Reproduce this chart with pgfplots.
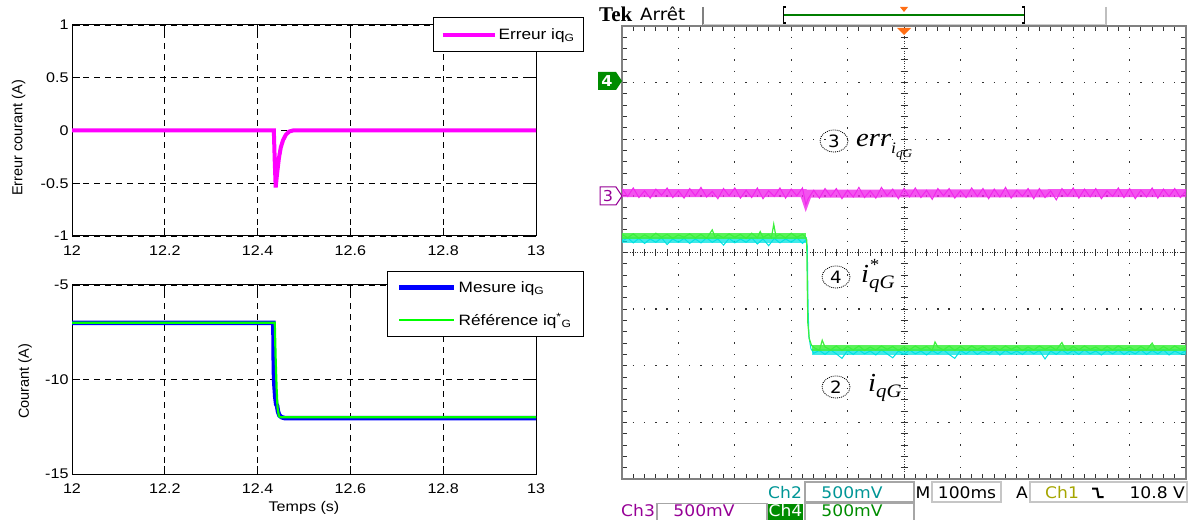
\documentclass[border=0pt]{standalone}
\usepackage{pgfplots}
\pgfplotsset{compat=1.18}
\usepackage{fontspec}
\setmainfont{Liberation Sans}[FakeStretch=1.15]
\newfontfamily\ylabfont{Liberation Sans}
\newfontfamily\scopefont{DejaVu Sans}[FakeStretch=1.07]
\newfontfamily\tekfont{Liberation Serif}
\newfontfamily\labfont{Liberation Serif}[FakeStretch=1.1]
\definecolor{mag}{RGB}{255,0,255}
\definecolor{mblue}{RGB}{0,0,255}
\definecolor{mgreen}{RGB}{0,255,0}
\definecolor{tmag}{RGB}{240,40,235}
\definecolor{tgreen}{RGB}{60,240,60}
\definecolor{tcyan}{RGB}{0,225,225}
\definecolor{teal2}{RGB}{0,150,150}
\definecolor{purp}{RGB}{150,0,150}
\definecolor{dgreen}{RGB}{0,140,0}
\definecolor{olive2}{RGB}{165,165,0}
\definecolor{orng}{RGB}{255,110,20}
\definecolor{gridc}{RGB}{50,50,50}
\definecolor{bordc}{RGB}{128,128,128}
\pgfplotsset{mat/.style={scale only axis, width=464pt, xmin=12, xmax=13,
  xtick={12,12.2,12.4,12.6,12.8,13}, xticklabels={12,12.2,12.4,12.6,12.8,13},
  tick align=inside, major tick length=8pt, tick style={black,line width=0.8pt},
  axis line style={line width=1pt}, grid=major,
  major grid style={black,line width=0.7pt,dash pattern=on 6pt off 5pt},
  legend cell align=left,
  legend image code/.code={\draw[##1] (0pt,0pt) -- (52pt,0pt);}}}
\begin{document}
\begin{tikzpicture}[font=\fontsize{14}{16}\selectfont]
\useasboundingbox (0,0) rectangle (1190pt,519pt);
% ---------------- oscilloscope graticule and texts ----------------
\begin{scope}[x=1pt,y=-1pt,shift={(0pt,519pt)}]
\foreach \i in {1,2,3,4,6,7,8,9}
  \draw[gridc,line width=1.3pt,dash pattern=on 1.3pt off 10.025pt,dash phase=0.65pt] ({622+56.4*\i},26) -- ({622+56.4*\i},479);
\foreach \j in {1,2,3,5,6,7}
  \draw[gridc,line width=1.3pt,dash pattern=on 1.3pt off 9.98pt,dash phase=0.65pt] (622,{26+56.625*\j}) -- (1186,{26+56.625*\j});
\draw[gridc,line width=1pt,dash pattern=on 1pt off 1.5pt] (904,26) -- (904,479);
\draw[gridc,line width=1pt,dash pattern=on 1pt off 1.5pt] (622,252.5) -- (1186,252.5);
\foreach \k in {0,...,40} \draw[gridc,line width=1pt] (900.5,{26+11.325*\k}) -- (907.5,{26+11.325*\k});
\foreach \k in {0,...,50} \draw[gridc,line width=1pt] ({622+11.28*\k},249) -- ({622+11.28*\k},256);
\foreach \k in {0,...,50} {
  \draw[gridc,line width=1pt] ({622+11.28*\k},27) -- ({622+11.28*\k},31);
  \draw[gridc,line width=1pt] ({622+11.28*\k},478) -- ({622+11.28*\k},474);}
\foreach \k in {0,...,40} {
  \draw[gridc,line width=1pt] (623,{26+11.325*\k}) -- (627,{26+11.325*\k});
  \draw[gridc,line width=1pt] (1185,{26+11.325*\k}) -- (1181,{26+11.325*\k});}
\draw[bordc,line width=2.6pt] (622,26) rectangle (1186,479);
% header
\node[anchor=base west,inner sep=0,font=\tekfont\bfseries\fontsize{21}{22}\selectfont] at (599,22) {Tek};
\node[anchor=base west,inner sep=0,font=\scopefont\fontsize{17}{18}\selectfont] at (640,21) {Arrêt};
\draw[gray,line width=1.2pt] (703,7) -- (703,25);
\draw[gray!50,line width=1.2pt] (1106,7) -- (1106,25);
\draw[gray!40,line width=1pt] (703,25) -- (1106,25);
\draw[dgreen!90!black,line width=1.2pt] (783,15) -- (1025,15);
\draw[black,line width=1.2pt] (786,7) -- (783.5,7) -- (783.5,23) -- (786,23);
\draw[black,line width=1.2pt] (1022,7) -- (1024.5,7) -- (1024.5,23) -- (1022,23);
\fill[orng] (900,7) -- (908,7) -- (904,12) -- cycle;
\fill[orng] (897,28) -- (911,28) -- (904,35) -- cycle;
% channel markers
\fill[dgreen] (598,72) -- (616,72) -- (622,81) -- (616,90) -- (598,90) -- cycle;
\node[text=white,inner sep=0,font=\scopefont\bfseries\fontsize{15}{16}\selectfont] at (607,81) {4};
\draw[purp,fill=white,line width=1pt] (600,187) -- (616,187) -- (622,196) -- (616,205) -- (600,205) -- cycle;
\node[text=purp,inner sep=0,font=\scopefont\fontsize{15}{16}\selectfont] at (608,196) {3};
% annotations
\draw[dash pattern=on 1pt off 1pt,line width=0.8pt] (834,141) ellipse [x radius=14pt,y radius=11pt];
\node[inner sep=0,font=\scopefont\fontsize{17}{18}\selectfont] at (834,141) {3};
\draw[dash pattern=on 1pt off 1pt,line width=0.8pt] (836,277) ellipse [x radius=14pt,y radius=11pt];
\node[inner sep=0,font=\scopefont\fontsize{17}{18}\selectfont] at (836,277) {4};
\draw[dash pattern=on 1pt off 1pt,line width=0.8pt] (836,387) ellipse [x radius=14pt,y radius=11pt];
\node[inner sep=0,font=\scopefont\fontsize{17}{18}\selectfont] at (836,387) {2};
\node[anchor=base west,inner sep=0,font=\labfont\itshape\fontsize{26}{27}\selectfont] at (856,147)
  {err\raisebox{-7pt}{\fontsize{16}{16}\selectfont i}\raisebox{-11pt}{\fontsize{12}{12}\selectfont qG}};
\node[anchor=base west,inner sep=0,font=\labfont\itshape\fontsize{26}{27}\selectfont] at (861,283)
  {i\rlap{\raisebox{12pt}{\fontsize{17}{17}\selectfont *}}\raisebox{-6pt}{\fontsize{19}{19}\selectfont qG}};
\node[anchor=base west,inner sep=0,font=\labfont\itshape\fontsize{26}{27}\selectfont] at (868,392)
  {i\raisebox{-6pt}{\fontsize{19}{19}\selectfont qG}};
% status bar
\begin{scope}[every node/.style={inner sep=0,font=\scopefont\fontsize{16}{18}\selectfont}]
\draw[gray!70,line width=1.3pt,fill=white] (805,482) rectangle (914,502);
\node[anchor=base west,text=teal2] at (768,498) {Ch2};
\node[anchor=base,text=teal2] at (852,498) {500mV};
\node[anchor=base west] at (915.5,498) {M};
\draw[gray!45,line width=1.3pt] (932,482) rectangle (1001,502);
\node[anchor=base] at (967,498) {100ms};
\node[anchor=base west] at (1016,498) {A};
\draw[gray!45,line width=1.3pt] (1030,482) rectangle (1187,502);
\node[anchor=base west,text=olive2] at (1045,498) {Ch1};
\draw[black,line width=2pt] (1092,488.5) -- (1097,488.5) -- (1098.5,497) -- (1103.5,497);
\node[anchor=base east] at (1185,498) {10.8 V};
\node[anchor=base west,text=purp] at (621,516) {Ch3};
\draw[gray!70,line width=1.3pt] (657,522) -- (657,503.5) -- (767,503.5) -- (767,522);
\node[anchor=base,text=purp] at (704,516) {500mV};
\fill[dgreen] (768,503.5) rectangle (803,522);
\node[anchor=base,text=white] at (785.5,516) {Ch4};
\draw[gray!70,line width=1.3pt] (805,522) -- (805,503.5) -- (914,503.5) -- (914,522);
\node[anchor=base,text=dgreen] at (852,516) {500mV};
\end{scope}
\end{scope}
% ---------------- oscilloscope traces ----------------
\begin{axis}[at={(622pt,40pt)},anchor=south west,scale only axis,width=564pt,height=453pt,
  xmin=-5,xmax=5,ymin=-4,ymax=4,hide axis]
\addplot[tmag,line width=8pt,opacity=0.8] coordinates {(-5,1.05) (-1.78,1.05) (-1.74,0.93) (-1.70,1.04) (5,1.05)};
\addplot[tmag,line width=1pt] coordinates {
(-5.0,1.13)(-4.9,0.99)(-4.8,1.14)(-4.7,0.97)(-4.6,1.09)(-4.5,0.96)(-4.4,1.12)(-4.3,1.01)(-4.2,1.14)(-4.1,0.97)
(-4.0,1.09)(-3.9,0.96)(-3.8,1.13)(-3.7,1.00)(-3.6,1.15)(-3.5,0.98)(-3.4,1.08)(-3.3,0.95)(-3.2,1.13)(-3.1,1.00)
(-3.0,1.14)(-2.9,0.96)(-2.8,1.10)(-2.7,0.97)(-2.6,1.14)(-2.5,0.95)(-2.4,1.09)(-2.3,0.99)(-2.2,1.14)(-2.1,0.96)
(-2.0,1.12)(-1.9,1.00)(-1.8,1.14)(-1.74,0.84)(-1.7,0.95)(-1.6,1.10)(-1.5,0.96)(-1.4,1.13)(-1.3,0.99)(-1.2,1.13)
(-1.1,0.95)(-1.0,1.10)(-0.9,0.98)(-0.8,1.15)(-0.7,0.97)(-0.6,1.09)(-0.5,0.96)(-0.4,1.15)(-0.3,1.00)(-0.2,1.12)
(-0.1,0.95)(0.0,1.13)(0.1,0.98)(0.2,1.14)(0.3,0.97)(0.4,1.10)(0.5,0.94)(0.6,1.13)(0.7,1.00)(0.8,1.13)
(0.9,0.96)(1.0,1.09)(1.1,0.97)(1.2,1.14)(1.3,0.99)(1.4,1.13)(1.5,0.95)(1.6,1.12)(1.7,0.98)(1.8,1.15)
(1.9,0.96)(2.0,1.10)(2.1,0.99)(2.2,1.13)(2.3,0.95)(2.4,1.13)(2.5,0.97)(2.6,1.09)(2.7,0.93)(2.8,1.13)
(2.9,1.00)(3.0,1.14)(3.1,0.96)(3.2,1.12)(3.3,0.98)(3.4,1.13)(3.5,0.95)(3.6,1.09)(3.7,0.99)(3.8,1.14)
(3.9,0.97)(4.0,1.13)(4.1,0.95)(4.2,1.10)(4.3,0.98)(4.4,1.14)(4.5,0.96)(4.6,1.12)(4.7,0.99)(4.8,1.13)
(4.9,0.97)(5.0,1.09)};
\addplot[tcyan,line width=6pt,opacity=0.75] coordinates {(-5,0.22) (-1.72,0.22)};
\addplot[tcyan,line width=6pt,opacity=0.75] coordinates {(-1.63,-1.76) (5,-1.76)};
\addplot[tcyan,line width=1pt] coordinates {
(-5.0,0.20)(-4.9,0.26)(-4.8,0.17)(-4.7,0.25)(-4.6,0.16)(-4.5,0.24)(-4.4,0.18)(-4.3,0.26)(-4.2,0.14)(-4.1,0.24)
(-4.0,0.18)(-3.9,0.25)(-3.8,0.16)(-3.7,0.24)(-3.6,0.17)(-3.5,0.26)(-3.4,0.18)(-3.3,0.24)(-3.2,0.13)(-3.1,0.25)
(-3.0,0.17)(-2.9,0.24)(-2.8,0.18)(-2.7,0.26)(-2.6,0.15)(-2.5,0.24)(-2.4,0.12)(-2.3,0.25)(-2.2,0.17)(-2.1,0.24)
(-2.0,0.18)(-1.9,0.26)(-1.8,0.16)(-1.74,0.22)(-1.715,0.12)(-1.70,-1.0)(-1.685,-1.5)(-1.65,-1.70)(-1.60,-1.78)
(-1.5,-1.73)(-1.4,-1.80)(-1.3,-1.72)(-1.2,-1.79)(-1.1,-1.87)(-1.0,-1.73)(-0.9,-1.80)(-0.8,-1.72)(-0.7,-1.79)
(-0.6,-1.74)(-0.5,-1.81)(-0.4,-1.72)(-0.3,-1.79)(-0.2,-1.86)(-0.1,-1.74)(0.0,-1.80)(0.1,-1.72)(0.2,-1.79)
(0.3,-1.74)(0.4,-1.81)(0.5,-1.73)(0.6,-1.79)(0.7,-1.72)(0.8,-1.80)(0.9,-1.87)(1.0,-1.73)(1.1,-1.79)(1.2,-1.72)
(1.3,-1.80)(1.4,-1.74)(1.5,-1.79)(1.6,-1.72)(1.7,-1.81)(1.8,-1.73)(1.9,-1.79)(2.0,-1.74)(2.1,-1.80)(2.2,-1.72)
(2.3,-1.79)(2.4,-1.73)(2.5,-1.88)(2.6,-1.74)(2.7,-1.80)(2.8,-1.72)(2.9,-1.79)(3.0,-1.73)(3.1,-1.80)(3.2,-1.72)
(3.3,-1.79)(3.4,-1.74)(3.5,-1.81)(3.6,-1.73)(3.7,-1.79)(3.8,-1.72)(3.9,-1.80)(4.0,-1.74)(4.1,-1.79)(4.2,-1.72)
(4.3,-1.80)(4.4,-1.73)(4.5,-1.79)(4.6,-1.72)(4.7,-1.81)(4.8,-1.74)(4.9,-1.79)(5.0,-1.73)};
\addplot[tgreen,line width=6pt,opacity=0.85] coordinates {(-5,0.29) (-1.73,0.29)};
\addplot[tgreen,line width=6pt,opacity=0.85] coordinates {(-1.64,-1.69) (5,-1.69)};
\addplot[tgreen,line width=1.2pt] coordinates {
(-5.0,0.32)(-4.9,0.26)(-4.8,0.33)(-4.7,0.25)(-4.6,0.31)(-4.5,0.26)(-4.4,0.34)(-4.3,0.27)(-4.2,0.32)(-4.1,0.25)
(-4.0,0.31)(-3.9,0.27)(-3.8,0.33)(-3.7,0.26)(-3.6,0.32)(-3.5,0.25)(-3.4,0.40)(-3.35,0.27)(-3.3,0.31)(-3.2,0.26)
(-3.1,0.33)(-3.0,0.27)(-2.9,0.32)(-2.8,0.25)(-2.7,0.34)(-2.6,0.26)(-2.55,0.37)(-2.5,0.27)(-2.4,0.32)(-2.35,0.26)
(-2.31,0.50)(-2.27,0.28)(-2.2,0.32)(-2.1,0.26)(-2.0,0.34)(-1.9,0.27)(-1.8,0.32)(-1.75,0.28)(-1.725,0.22)
(-1.715,-0.6)(-1.705,-1.25)(-1.68,-1.52)(-1.64,-1.64)(-1.58,-1.69)(-1.5,-1.73)(-1.45,-1.55)(-1.4,-1.67)
(-1.3,-1.72)(-1.2,-1.65)(-1.1,-1.73)(-1.0,-1.66)(-0.9,-1.72)(-0.8,-1.65)(-0.7,-1.73)(-0.6,-1.67)(-0.5,-1.72)
(-0.4,-1.65)(-0.3,-1.71)(-0.2,-1.66)(-0.1,-1.73)(0.0,-1.67)(0.1,-1.72)(0.2,-1.65)(0.3,-1.71)(0.4,-1.66)
(0.5,-1.73)(0.55,-1.58)(0.6,-1.67)(0.7,-1.72)(0.8,-1.65)(0.9,-1.73)(1.0,-1.66)(1.1,-1.72)(1.2,-1.65)(1.3,-1.71)
(1.4,-1.66)(1.5,-1.73)(1.6,-1.67)(1.7,-1.72)(1.8,-1.65)(1.9,-1.71)(2.0,-1.66)(2.1,-1.73)(2.2,-1.67)(2.3,-1.72)
(2.4,-1.65)(2.5,-1.71)(2.6,-1.66)(2.7,-1.72)(2.8,-1.59)(2.85,-1.69)(2.9,-1.73)(3.0,-1.66)(3.1,-1.72)(3.2,-1.65)
(3.3,-1.71)(3.4,-1.67)(3.5,-1.73)(3.6,-1.66)(3.7,-1.72)(3.8,-1.65)(3.9,-1.71)(4.0,-1.67)(4.1,-1.73)(4.2,-1.66)
(4.3,-1.72)(4.4,-1.60)(4.45,-1.69)(4.5,-1.73)(4.6,-1.66)(4.7,-1.72)(4.8,-1.65)(4.9,-1.71)(5.0,-1.67)};
\end{axis}
% ---------------- left top axis ----------------
\begin{axis}[mat,at={(72pt,283pt)},anchor=south west,height=211pt,
  ymin=-1,ymax=1,ytick={-1,-0.5,0,0.5,1},yticklabels={-1,-0.5,0,0.5,1},
  xticklabel style={yshift=-6pt},
  ylabel={\ylabfont\fontsize{14.5}{16}\selectfont Erreur courant (A)},
  ylabel style={at={(axis description cs:-0.115,0.465)},anchor=center},
  legend style={at={(axis description cs:1.1034,1.038)},anchor=north east,draw=black,line width=0.8pt,
    inner xsep=7pt,inner ysep=9pt,font=\fontsize{15}{17}\selectfont}]
\addplot[mag,line width=4pt] coordinates {(12,0) (12.435,0) (12.437,-0.3) (12.439,-0.54) (12.441,-0.45) (12.443,-0.37)
  (12.446,-0.26) (12.450,-0.16) (12.455,-0.09) (12.461,-0.04) (12.468,-0.01) (12.476,0) (13,0)};
\addlegendentry{Erreur iq\textsubscript{G}}
\end{axis}
% ---------------- left bottom axis ----------------
\begin{axis}[mat,at={(72pt,45pt)},anchor=south west,height=189pt,
  ymin=-15,ymax=-5,ytick={-15,-10,-5},yticklabels={-15,-10,-5},
  xticklabel style={yshift=-6pt},
  xlabel={Temps (s)},xlabel style={at={(axis description cs:0.5,-0.18)},anchor=center},
  ylabel={\ylabfont\fontsize{14.5}{16}\selectfont Courant (A)},
  ylabel style={at={(axis description cs:-0.101,0.49)},anchor=center},
  legend image code/.code={\draw[#1] (0pt,0pt) -- (55pt,0pt);},
  legend style={at={(axis description cs:1.1034,1.074)},anchor=north east,draw=black,line width=0.8pt,
    inner xsep=10pt,inner ysep=8pt,row sep=15pt,font=\fontsize{15}{17}\selectfont}]
\addplot[mblue,line width=4.5pt] coordinates {(12,-7) (12.434,-7) (12.435,-9.5) (12.436,-10.2) (12.438,-10.9)
  (12.440,-11.3) (12.442,-11.4) (12.444,-11.7) (12.447,-11.9) (12.452,-12.0) (12.46,-12.05) (13,-12.05)};
\addlegendentry{Mesure iq\textsubscript{G}}
\addplot[mgreen,line width=2.2pt] coordinates {(12,-7) (12.437,-7) (12.439,-9) (12.441,-10.5) (12.443,-11.5)
  (12.446,-11.95) (12.45,-12) (13,-12)};
\addlegendentry{Référence iq\textsuperscript{*}\textsubscript{G}}
\end{axis}
\end{tikzpicture}
\end{document}
